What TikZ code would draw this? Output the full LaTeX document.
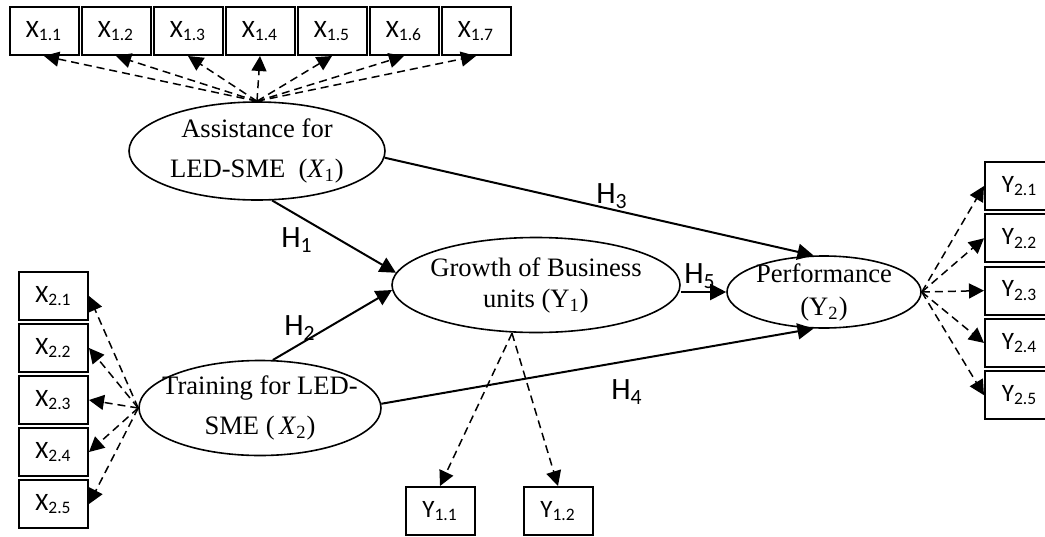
\documentclass[tikz,border=0pt]{standalone}
\usepackage{fontspec}
\setmainfont{Liberation Serif}
\newfontfamily\boxfont{Carlito}
\usetikzlibrary{arrows.meta}
\usetikzlibrary{shapes.geometric}

\tikzset{
  indicator/.style={draw, line width=1pt, minimum width=34.5pt, minimum height=24pt,
    inner sep=0pt, font=\boxfont\fontsize{12.5}{13}\selectfont},
  construct/.style={draw, ellipse, line width=0.8pt, inner sep=0pt, align=center},
  loading/.style={dash pattern=on 4pt off 2.5pt, line width=0.75pt,
    -{Triangle[length=7.5pt,width=7.5pt]}},
  effect/.style={line width=1pt, -{Triangle[length=8pt,width=8pt]}},
  hyp/.style={font=\boxfont\fontsize{15.5}{16}\selectfont}
}

\begin{document}
\begin{tikzpicture}[x=0.5pt,y=-0.5pt]
    \useasboundingbox (0,0) rectangle (1045,536);

    % latent variables
    \node[construct, minimum width=128pt, minimum height=49pt,
      font=\fontsize{13.3}{20}\selectfont] (A) at (257,151)
      {Assistance for\\LED-SME\ \ (\textit{X}\textsubscript{1})};
    \node[construct, minimum width=121pt, minimum height=47.5pt, inner xsep=-6.5pt,
      font=\fontsize{13.3}{20}\selectfont] (T) at (260,408)
      {Training for LED-\\SME (\,\textit{X}\textsubscript{2})};
    \node[construct, minimum width=144pt, minimum height=47.5pt, inner xsep=-2.5pt,
      font=\fontsize{13.3}{15.5}\selectfont] (G) at (536,285)
      {Growth of Business\\units (Y\textsubscript{1})};
    \node[construct, minimum width=97pt, minimum height=36pt, inner ysep=-2.5pt,
      font=\fontsize{13.3}{16.5}\selectfont] (P) at (824,292)
      {Performance\\(Y\textsubscript{2})};

    % indicators
    \foreach \i in {1,...,7}
      \node[indicator] (x1\i) at ({44+72*(\i-1)},31) {X\textsubscript{1.\i}};
    \foreach \i in {1,...,5}
      \node[indicator] (x2\i) at (53.5,{296+52*(\i-1)}) {X\textsubscript{2.\i}};
    \foreach \i in {1,...,5}
      \node[indicator] (y2\i) at (1019.5,{186+52.3*(\i-1)}) {Y\textsubscript{2.\i}};
    \node[indicator] (y11) at (440,511) {Y\textsubscript{1.1}};
    \node[indicator] (y12) at (558,511) {Y\textsubscript{1.2}};

    % loadings
    \foreach \i in {1,...,7}
      \draw[loading] (A.north) -- (x1\i.south);
    \foreach \i in {1,...,5}
      \draw[loading] (T.west) -- (x2\i.east);
    \foreach \i in {1,...,5}
      \draw[loading] (P.east) -- (y2\i.west);
    \coordinate (g) at ([xshift=-12pt]G.south);
    \draw[loading] (g) -- (y11.north);
    \draw[loading] (g) -- (y12.north);

    % hypotheses
    \draw[effect] (A.-73) -- (G.175);
    \draw[effect] (T.75) -- (G.182);
    \draw[effect] (A.-3) -- (P.106);
    \draw[effect] (T.2) -- (P.-106);
    \draw[effect] (P.west -| G.east) -- (P.west);
    \node[hyp] (h1) at (297,240) {H\textsubscript{1}};
    \node[hyp] (h2) at (300,328) {H\textsubscript{2}};
    \node[hyp] (h3) at (612,196) {H\textsubscript{3}};
    \node[hyp] (h4) at (627,392) {H\textsubscript{4}};
    \node[hyp] (h5) at (700,276) {H\textsubscript{5}};
\end{tikzpicture}
\end{document}
